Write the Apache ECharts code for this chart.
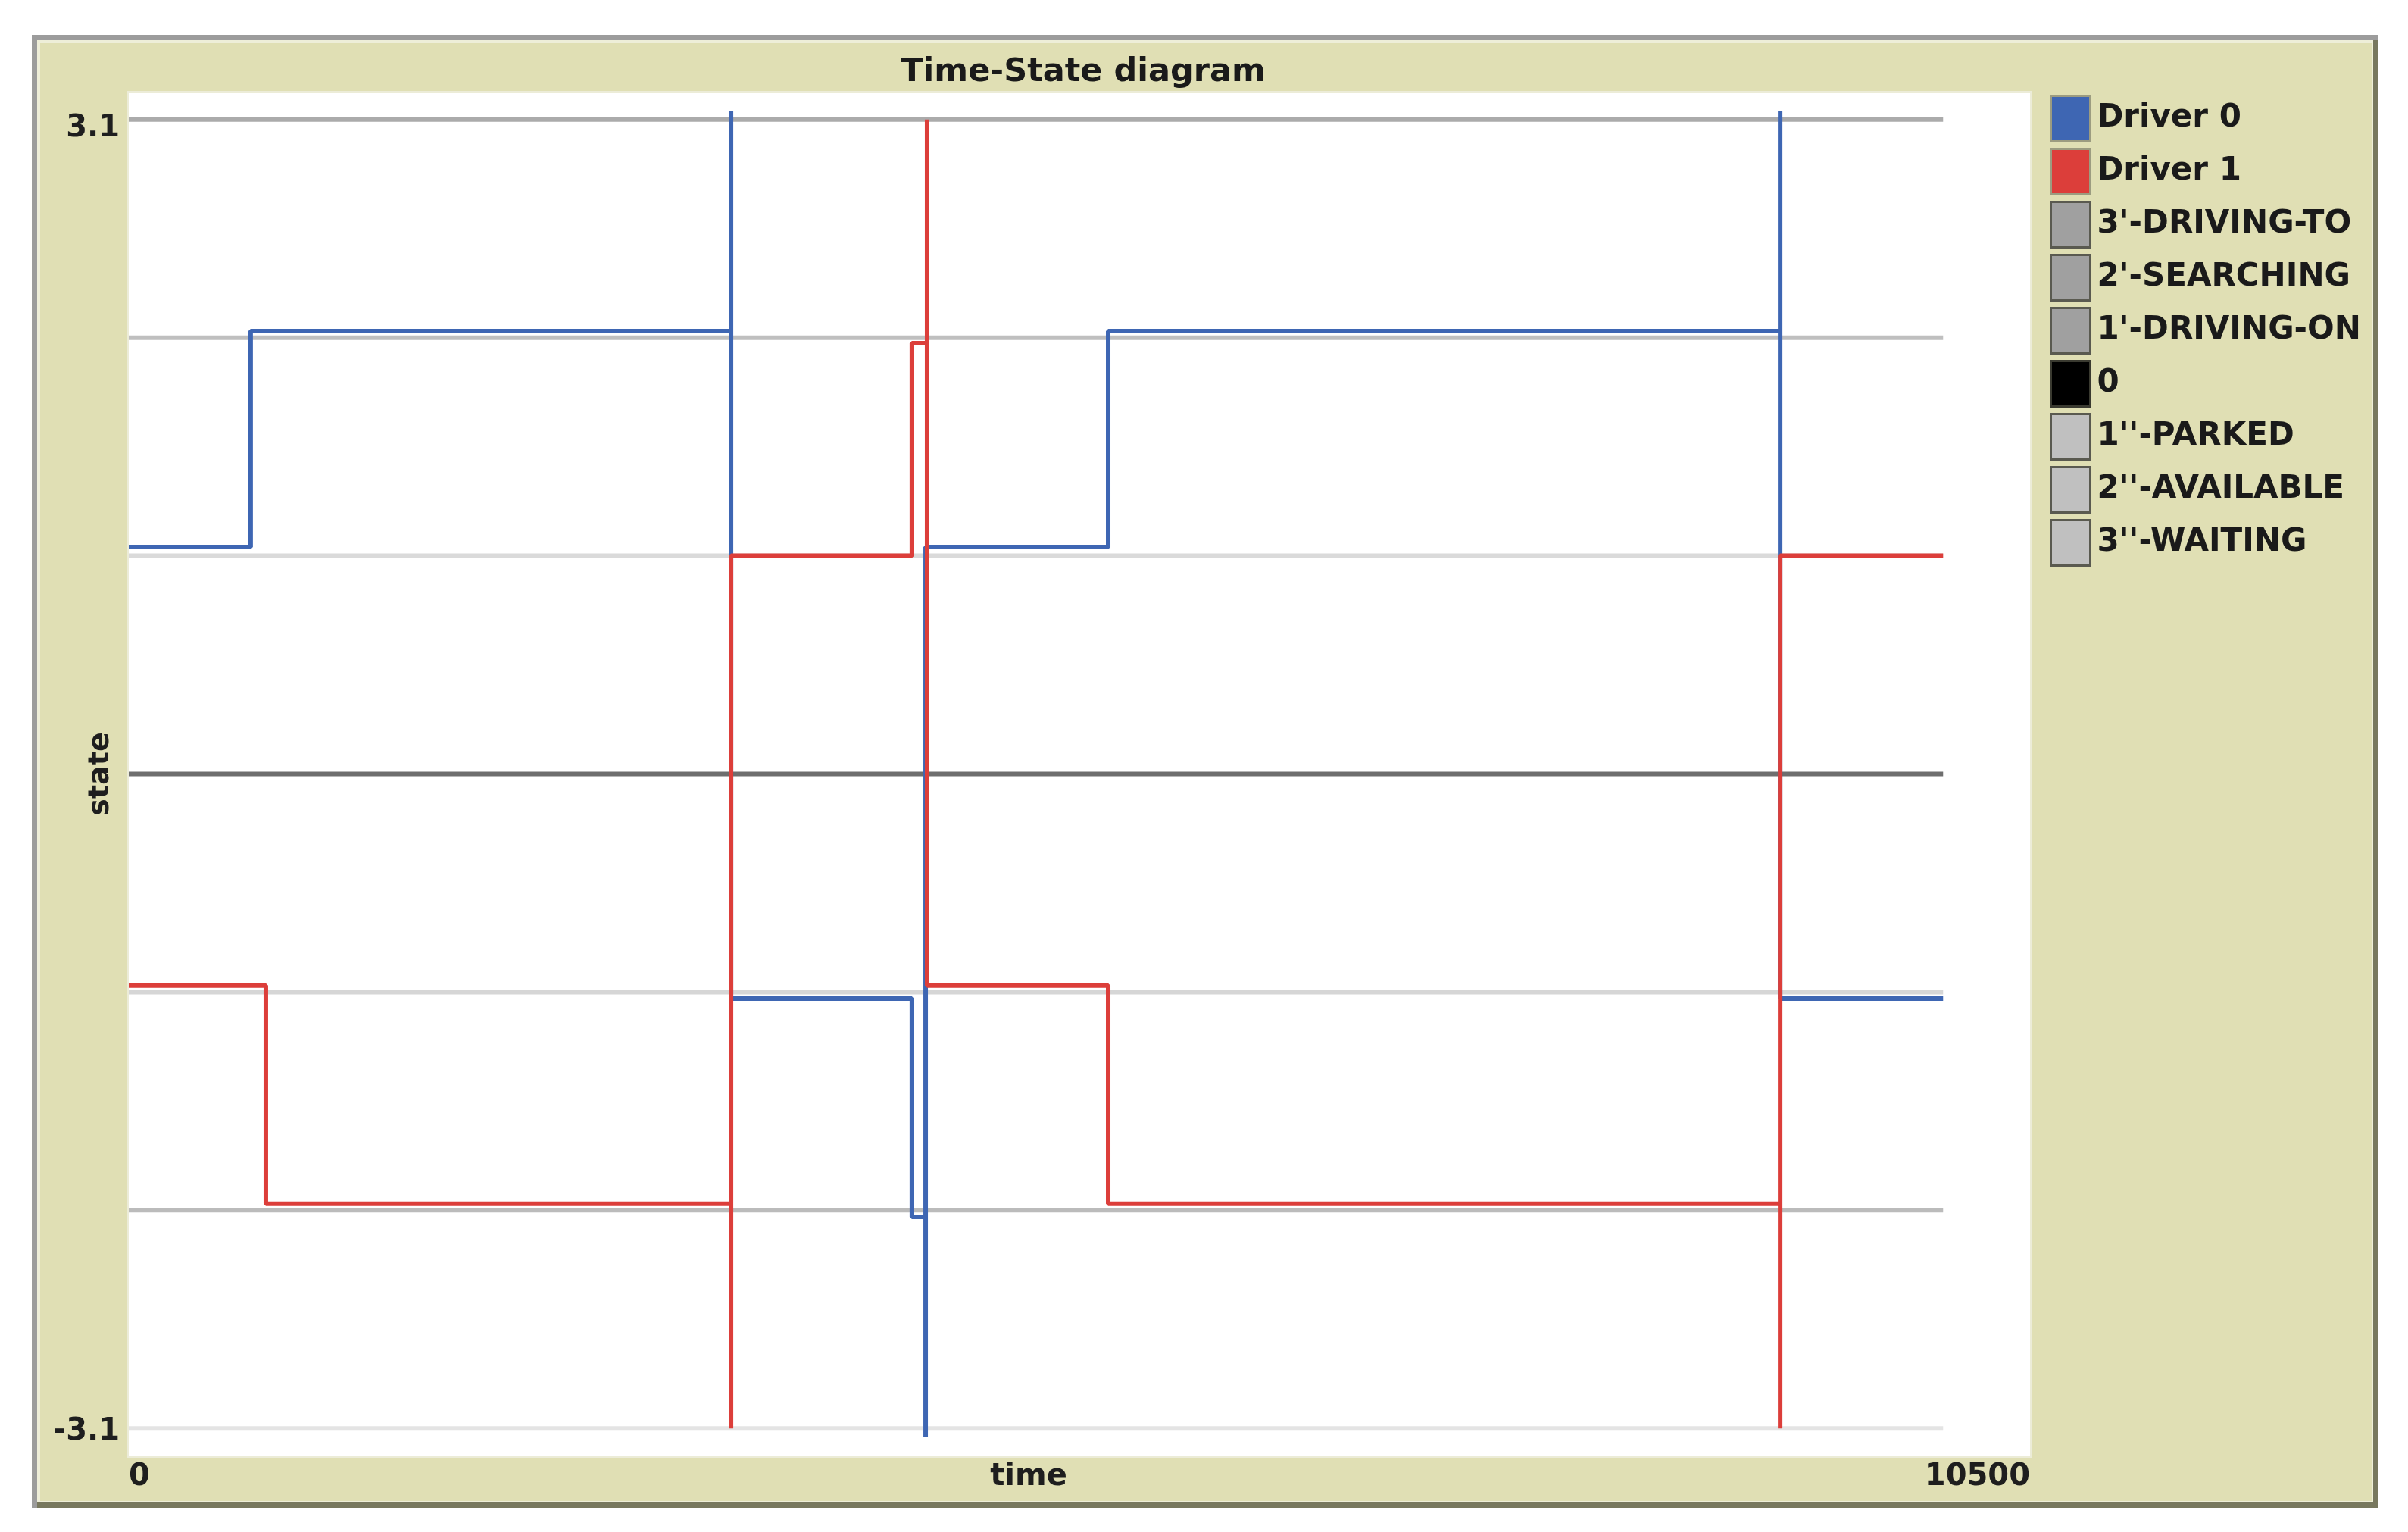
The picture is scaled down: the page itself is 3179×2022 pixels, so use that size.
<!DOCTYPE html>
<html>
<head>
<meta charset="utf-8">
<script src="https://cdn.jsdelivr.net/npm/echarts@6/dist/echarts.min.js"></script>
<style>
  html, body { margin: 0; padding: 0; background: #fff; }
  #main { width: 3179px; height: 2022px; }
</style>
</head>
<body>
<div id="main"></div>
<script>
// axis ranges and the few labels NetLogo shows
var timeMin = 0, timeMax = 10500;
var stateMin = -3.1, stateMax = 3.1;
var xTickValues = [0, 10500];
var xTickLabels = ['0', '10500'];
var yTickValues = [-3.1, 3.1];
var yTickLabels = ['-3.1', '3.1'];

// driver traces: time where each state starts, and the plotted state value
var driver0Time  = [0, 673, 3326, 3326, 4325, 4401, 4401, 5409, 9120, 9120, 10020];
var driver0State = [1.04, 2.03, 3.04, -1.03, -2.03, -3.04, 1.04, 2.03, 3.04, -1.03, -1.03];
var driver1Time  = [0, 757, 3326, 3326, 4325, 4409, 4409, 5409, 9120, 9120, 10020];
var driver1State = [-0.97, -1.97, -3.0, 1.0, 1.975, 3.0, -0.97, -1.97, -3.0, 1.0, 1.0];

// reference pens (one constant line per state)
var refNames  = ["3'-DRIVING-TO", "2'-SEARCHING", "1'-DRIVING-ON", '0', "1''-PARKED", "2''-AVAILABLE", "3''-WAITING"];
var refLevels = [3, 2, 1, 0, -1, -2, -3];
var refEnd = 10020;

// styles
var refLineColors = ['#ababab', '#bfbfbf', '#dadada', '#6e6e6e', '#d6d6d6', '#bbbbbb', '#e4e4e4'];
var refSwatch     = ['#a0a0a0', '#a0a0a0', '#a0a0a0', '#000000', '#c0c0c0', '#c0c0c0', '#c0c0c0'];
var driverNames   = ['Driver 0', 'Driver 1'];
var driverColors  = ['#3e66b3', '#dc3e3a'];
var olive = '#e0dfb4';
var font = 'DejaVu Sans';

function pairs(xs, ys) {
    var out = [];
    for (var i = 0; i < xs.length; i++) out.push([xs[i], ys[i]]);
    return out;
}

var myChart = echarts.init(document.getElementById('main'));

var series = [];
refLevels.forEach(function (lv, i) {
    series.push({
        name: refNames[i],
        type: 'line',
        data: [[timeMin, lv], [refEnd, lv]],
        symbol: 'none',
        silent: true,
        lineStyle: { color: refLineColors[i], width: 6 },
        itemStyle: { color: refSwatch[i] },
        z: 2
    });
});
[pairs(driver0Time, driver0State), pairs(driver1Time, driver1State)].forEach(function (d, i) {
    series.push({
        name: driverNames[i],
        type: 'line',
        step: 'end',
        data: d,
        symbol: 'none',
        silent: true,
        lineStyle: { color: driverColors[i], width: 6 },
        itemStyle: { color: driverColors[i] },
        z: 3 + i
    });
});

var legendData = [];
driverNames.forEach(function (n, i) {
    legendData.push({ name: n, itemStyle: { color: driverColors[i], borderColor: '#9c9c80', borderWidth: 3 } });
});
refNames.forEach(function (n, i) {
    legendData.push({ name: n, itemStyle: { color: refSwatch[i], borderColor: i === 3 ? '#3a3a30' : '#5a5a50', borderWidth: 3 } });
});

var option = {
    animation: false,
    backgroundColor: '#ffffff',
    graphic: [
        { type: 'rect', z: -10, shape: { x: 42, y: 46, width: 3098, height: 1944 }, style: { fill: '#9c9c9c' } },
        { type: 'rect', z: -9, shape: { x: 49, y: 1983, width: 3091, height: 7 }, style: { fill: '#78785e' } },
        { type: 'rect', z: -9, shape: { x: 3133, y: 53, width: 7, height: 1937 }, style: { fill: '#78785e' } },
        { type: 'rect', z: -8, shape: { x: 49, y: 53, width: 3084, height: 1930 }, style: { fill: '#eeeed8' } },
        { type: 'rect', z: -7, shape: { x: 53, y: 57, width: 3078, height: 1924 }, style: { fill: olive } },
        { type: 'rect', z: -6, shape: { x: 168, y: 120, width: 2514, height: 1804 }, style: { fill: '#ececd8' } },
        { type: 'rect', z: -5, shape: { x: 170, y: 123, width: 2510, height: 1799 }, style: { fill: '#ffffff' } }
    ],
    title: {
        text: 'Time-State diagram',
        left: 1425,
        top: 66,
        textAlign: 'center',
        textStyle: { fontFamily: font, fontSize: 43, fontWeight: 'bold', color: '#1a1a1a', lineHeight: 50 }
    },
    legend: {
        orient: 'vertical',
        left: 2701,
        top: 120,
        itemWidth: 52,
        itemHeight: 60,
        itemGap: 7,
        icon: 'rect',
        selectedMode: false,
        data: legendData,
        lineStyle: { width: 0, opacity: 0 },
        textStyle: { fontFamily: font, fontSize: 42, fontWeight: 'bold', color: '#1a1a1a', padding: [0, 0, 0, 4] }
    },
    grid: { left: 170, right: 499, top: 129, bottom: 108, containLabel: false },
    xAxis: {
        type: 'value',
        min: timeMin,
        max: timeMax,
        name: 'time',
        nameLocation: 'middle',
        nameGap: 16,
        nameMoveOverlap: false,
        nameTextStyle: { fontFamily: font, fontSize: 40, fontWeight: 'bold', color: '#1e1e1e', verticalAlign: 'top', padding: [0, 134, 0, 0] },
        axisLine: { show: false },
        axisTick: { show: false },
        splitLine: { show: false },
        axisLabel: {
            customValues: xTickValues,
            margin: 16,
            alignMinLabel: 'left',
            alignMaxLabel: 'right',
            fontFamily: font, fontSize: 40, fontWeight: 'bold', color: '#1e1e1e',
            formatter: function (v) {
                var idx = xTickValues.indexOf(v);
                return idx >= 0 ? xTickLabels[idx] : String(v);
            }
        }
    },
    yAxis: {
        type: 'value',
        min: stateMin,
        max: stateMax,
        name: 'state',
        nameLocation: 'middle',
        nameGap: 18,
        nameMoveOverlap: false,
        nameTextStyle: { fontFamily: font, fontSize: 38, fontWeight: 'bold', color: '#1e1e1e' },
        axisLine: { show: false },
        axisTick: { show: false },
        splitLine: { show: false },
        axisLabel: {
            customValues: yTickValues,
            margin: 12,
            fontFamily: font, fontSize: 40, fontWeight: 'bold', color: '#1e1e1e',
            formatter: function (v) {
                var idx = yTickValues.indexOf(v);
                var txt = idx >= 0 ? yTickLabels[idx] : String(v);
                return v > 0 ? '{hi|' + txt + '}' : '{lo|' + txt + '}';
            },
            rich: {
                hi: { fontFamily: font, fontSize: 40, fontWeight: 'bold', color: '#1e1e1e', padding: [82, 0, 0, 0] },
                lo: { fontFamily: font, fontSize: 40, fontWeight: 'bold', color: '#1e1e1e', padding: [0, 0, 48, 0] }
            }
        }
    },
    series: series
};

myChart.setOption(option);
</script>
</body>
</html>
